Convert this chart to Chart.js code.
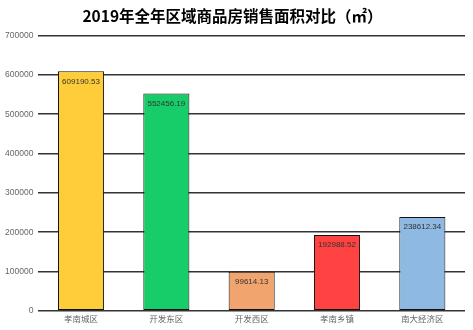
<!DOCTYPE html>
<html>
<head>
<meta charset="utf-8">
<script src="https://cdn.jsdelivr.net/npm/chart.js@4.4.1/dist/chart.umd.min.js"></script>
<style>
  html, body { margin: 0; padding: 0; background: #fff; }
  #wrap { width: 473px; height: 330px; }
</style>
</head>
<body>
<div id="wrap"><canvas id="myChart"></canvas></div>
<script>
const labels = ["孝南城区", "开发东区", "开发西区", "孝南乡镇", "南大经济区"];
const valores = [609190.53, 552456.19, 99614.13, 192988.52, 238612.34];
const colores = ["#FFCC3A", "#17CD69", "#F2A46E", "#FF4242", "#8DB9E3"];
const yTicks = [0, 100000, 200000, 300000, 400000, 500000, 600000, 700000];

// etiquetas de valor dentro de la barra
const valueLabels = {
  id: "valueLabels",
  afterDatasetsDraw(chart) {
    const { ctx } = chart;
    const meta = chart.getDatasetMeta(0);
    ctx.save();
    ctx.font = "8px 'Liberation Sans', sans-serif";
    ctx.fillStyle = "#333";
    ctx.textAlign = "center";
    ctx.textBaseline = "middle";
    meta.data.forEach((bar, i) => {
      ctx.fillText(valores[i].toFixed(2), bar.x, bar.y + 10);
    });
    ctx.restore();
  },
};

new Chart(document.getElementById("myChart"), {
  type: "bar",
  data: {
    labels: labels,
    datasets: [
      {
        data: valores,
        backgroundColor: colores,
        borderColor: "#111",
        borderWidth: 1,
        borderSkipped: false,
        barPercentage: 0.54,
        categoryPercentage: 1,
      },
    ],
  },
  options: {
    responsive: true,
    maintainAspectRatio: false,
    animation: false,
    layout: { padding: { top: 7, right: 8, left: 0, bottom: 3 } },
    plugins: {
      legend: { display: false },
      tooltip: { enabled: false },
      title: {
        display: true,
        text: "2019年全年区域商品房销售面积对比（㎡）",
        color: "#000",
        font: { size: 15.5, weight: "bold", family: "'Noto Sans CJK SC', sans-serif" },
        padding: { top: 0, bottom: 10 },
      },
    },
    scales: {
      x: {
        grid: { display: false, drawTicks: false },
        border: { display: false },
        ticks: { color: "#666", font: { size: 8.5, family: "'Noto Sans CJK SC', sans-serif" }, padding: 3 },
      },
      y: {
        min: 0,
        max: 700000,
        border: { display: false },
        grid: { color: "#333", lineWidth: 1.5, drawTicks: false },
        afterBuildTicks: (axis) => {
          axis.ticks = yTicks.map((v) => ({ value: v }));
        },
        ticks: {
          color: "#666",
          font: { size: 8.5, family: "'Liberation Sans', sans-serif" },
          padding: 5,
          callback: (v) => String(v),
        },
      },
    },
  },
  plugins: [valueLabels],
});
</script>
</body>
</html>
